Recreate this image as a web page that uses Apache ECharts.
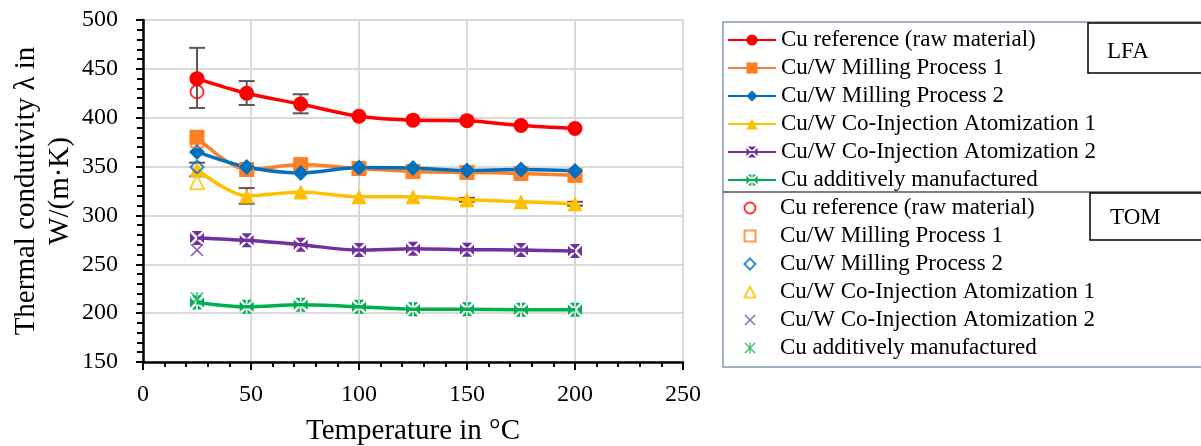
<!DOCTYPE html>
<html>
<head>
<meta charset="utf-8">
<script src="https://cdn.jsdelivr.net/npm/echarts@6/dist/echarts.min.js"></script>
<style>html,body{margin:0;padding:0;background:#fff}#c{width:1201px;height:446px}</style>
</head>
<body>
<div id="c"></div>
<script>
// ---- data ----
const temps = [25, 48, 73, 100, 125, 150, 175, 200];
const seriesNames = [
  'Cu reference (raw material)',
  'Cu/W Milling Process 1',
  'Cu/W Milling Process 2',
  'Cu/W Co-Injection Atomization 1',
  'Cu/W Co-Injection Atomization 2',
  'Cu additively manufactured'
];
const lfaCuRef = [440, 425, 414, 401.5, 397.5, 397, 392, 389];
const lfaMP1   = [380, 347, 352, 348, 345, 344, 343, 341];
const lfaMP2   = [365, 349.5, 343.5, 349, 348.5, 346, 347, 345.5];
const lfaCIA1  = [347, 320, 324, 319, 319, 316, 314, 312];
const lfaCIA2  = [277, 274.5, 270, 264.5, 266, 265, 264.5, 263.5];
const lfaCuAM  = [211, 206.5, 208.5, 206.5, 204, 204, 203.5, 203.5];
const tomTemp = 25;
const tomValues = [426.5, 376, 349.5, 334, 264.5, 215];
// error bars: temperature, low, high
const errTemps = [25, 48, 73, 25, 48, 150, 200];
const errLow   = [410, 413, 404.5, 340, 312, 314, 310];
const errHigh  = [471.5, 437.5, 424, 354, 328, 318, 314];
const xTicks = [0, 50, 100, 150, 200, 250];
const yTicks = [150, 200, 250, 300, 350, 400, 450, 500];

// ---- styles ----
const colors = ['#ff0000', '#ff7f27', '#0070c0', '#ffc000', '#7030a0', '#00b050'];
const FONT = 'Liberation Serif';
const boxedX = 'path://M1.5 0 L10.5 0 L6 4.5 Z M12 1.5 L12 10.5 L7.5 6 Z M1.5 12 L10.5 12 L6 7.5 Z M0 1.5 L0 10.5 L4.5 6 Z';
const boxedStar = 'path://M12 1.5 L12 10.5 L7.5 6 Z M0 1.5 L0 10.5 L4.5 6 Z M1.5 0 L5.25 0 L5.25 3.75 Z M6.75 0 L10.5 0 L6.75 3.75 Z M1.5 12 L5.25 12 L5.25 8.25 Z M6.75 12 L10.5 12 L6.75 8.25 Z';
const thinX = 'path://M0 1 L1 0 L6 5 L11 0 L12 1 L7 6 L12 11 L11 12 L6 7 L1 12 L0 11 L5 6 Z';
const thinStar = 'path://M0 1 L1 0 L6 5 L11 0 L12 1 L7 6 L12 11 L11 12 L6 7 L1 12 L0 11 L5 6 Z M5.3 0 L6.7 0 L6.7 12 L5.3 12 Z';
const lfaSymbols = ['circle', 'rect', 'diamond', 'triangle', boxedX, boxedStar];
const lfaSizes = [15, 15, 16, 15, 14, 14];
const tomSymbols = ['circle', 'rect', 'diamond', 'triangle', thinX, thinStar];
const tomSizes = [13, 12, 13, 14, 13, 13];
const tomHollow = [true, true, true, true, false, false];

const lfaData = [lfaCuRef, lfaMP1, lfaMP2, lfaCIA1, lfaCIA2, lfaCuAM];
const series = [];

// error bars (drawn first, below markers)
series.push({
  type: 'custom',
  name: 'err',
  data: errTemps.map((t, i) => [t, errLow[i], errHigh[i]]),
  z: 1,
  renderItem: function (params, api) {
    const lo = api.coord([api.value(0), api.value(1)]);
    const hi = api.coord([api.value(0), api.value(2)]);
    const w = 8;
    const st = { stroke: '#595959', lineWidth: 2 };
    return {
      type: 'group',
      children: [
        { type: 'line', shape: { x1: lo[0], y1: lo[1], x2: hi[0], y2: hi[1] }, style: st },
        { type: 'line', shape: { x1: lo[0] - w, y1: lo[1], x2: lo[0] + w, y2: lo[1] }, style: st },
        { type: 'line', shape: { x1: hi[0] - w, y1: hi[1], x2: hi[0] + w, y2: hi[1] }, style: st }
      ]
    };
  }
});

lfaData.forEach((vals, i) => {
  series.push({
    type: 'line',
    name: seriesNames[i],
    data: temps.map((t, j) => [t, vals[j]]),
    smooth: 0.3,
    symbol: lfaSymbols[i],
    symbolSize: lfaSizes[i],
    showAllSymbol: true,
    lineStyle: { color: colors[i], width: 3.5 },
    itemStyle: { color: colors[i], borderWidth: 0 },
    z: 3
  });
});

tomValues.forEach((v, i) => {
  series.push({
    type: 'scatter',
    name: 'TOM ' + seriesNames[i],
    data: [[tomTemp, v]],
    symbol: tomSymbols[i],
    symbolSize: tomSizes[i],
    itemStyle: tomHollow[i]
      ? { color: 'rgba(255,255,255,0)', borderColor: colors[i], borderWidth: 2 }
      : { color: colors[i], borderWidth: 0 },
    z: 4
  });
});

const chart = echarts.init(document.getElementById('c'), null, { renderer: 'canvas' });
chart.setOption({
  animation: false,
  backgroundColor: '#ffffff',
  textStyle: { fontFamily: FONT, color: '#000' },
  grid: { left: 143, right: 518, top: 20, bottom: 84, containLabel: false, outerBoundsMode: 'none' },
  xAxis: {
    type: 'value',
    min: xTicks[0], max: xTicks[xTicks.length - 1], interval: 50,
    name: 'Temperature in \u00b0C',
    nameLocation: 'middle',
    nameGap: 55,
    nameTextStyle: { fontFamily: FONT, fontSize: 29, color: '#000' },
    axisLine: { show: true, onZero: false, lineStyle: { color: '#000', width: 2.5 } },
    axisTick: { show: true, inside: false, length: 8, lineStyle: { color: '#000', width: 2 } },
    minorTick: { show: true, splitNumber: 5, length: 5, lineStyle: { color: '#000', width: 2 } },
    axisLabel: { margin: 21, fontFamily: FONT, fontSize: 24, color: '#000' },
    splitLine: { show: true, lineStyle: { color: '#d9d9d9', width: 2 } }
  },
  yAxis: {
    type: 'value',
    min: yTicks[0], max: yTicks[yTicks.length - 1], interval: 50,
    name: 'Thermal condutivity \u03bb in\nW/(m\u00b7K)',
    nameLocation: 'middle',
    nameRotate: 90,
    nameGap: 66,
    nameTextStyle: { fontFamily: FONT, fontSize: 29, lineHeight: 34, color: '#000', align: 'center' },
    axisLine: { show: true, onZero: false, lineStyle: { color: '#000', width: 2.5 } },
    axisTick: { show: true, inside: false, length: 7, lineStyle: { color: '#000', width: 2 } },
    minorTick: { show: true, splitNumber: 5, length: 6, lineStyle: { color: '#000', width: 2 } },
    axisLabel: { margin: 25, fontFamily: FONT, fontSize: 24, color: '#000' },
    splitLine: { show: true, lineStyle: { color: '#d9d9d9', width: 2 } }
  },
  legend: [
    {
      orient: 'vertical', left: 727, top: 28, padding: 0,
      itemWidth: 48, itemHeight: 14, itemGap: 4,
      data: seriesNames,
      textStyle: { fontFamily: FONT, fontSize: 23, lineHeight: 24, color: '#000' },
      selectedMode: false
    },
    {
      orient: 'vertical', left: 743.5, top: 196, padding: 0,
      itemWidth: 11, itemHeight: 11, itemGap: 4,
      data: seriesNames.map(n => 'TOM ' + n),
      formatter: function (n) { return n.replace(/^TOM /, ''); },
      textStyle: { fontFamily: FONT, fontSize: 23, lineHeight: 24, color: '#000', padding: [0, 0, 0, 19.5] },
      selectedMode: false
    }
  ],
  graphic: [
    { type: 'rect', shape: { x: 723, y: 22, width: 500, height: 345 }, style: { fill: 'none', stroke: '#8496b0', lineWidth: 1.5 }, z: -1 },
    { type: 'line', shape: { x1: 723, y1: 192, x2: 1201, y2: 192 }, style: { stroke: '#555', lineWidth: 1.5 }, z: -1 },
    { type: 'rect', shape: { x: 1088, y: 23, width: 130, height: 50 }, style: { fill: '#fff', stroke: '#000', lineWidth: 1.5 } },
    { type: 'text', x: 1107, y: 52, style: { text: 'LFA', font: '23px "Liberation Serif"', fill: '#000', verticalAlign: 'middle' } },
    { type: 'rect', shape: { x: 1090, y: 193, width: 130, height: 47 }, style: { fill: '#fff', stroke: '#000', lineWidth: 1.5 } },
    { type: 'text', x: 1110, y: 218, style: { text: 'TOM', font: '23px "Liberation Serif"', fill: '#000', verticalAlign: 'middle' } }
  ],
  series: series
});
</script>
</body>
</html>
